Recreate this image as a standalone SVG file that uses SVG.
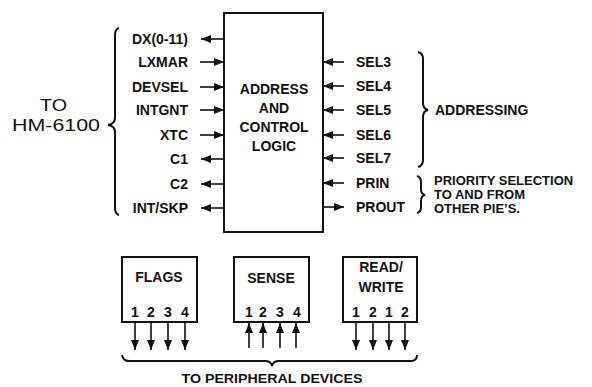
<svg xmlns="http://www.w3.org/2000/svg" width="592" height="387" viewBox="0 0 592 387">
<style>
.t{font-family:"Liberation Sans",Arial,sans-serif;font-weight:bold;font-size:14px;fill:#111}
.s{font-family:"Liberation Sans",Arial,sans-serif;font-weight:bold;font-size:13px;fill:#111}
.big{font-family:"Liberation Sans",Arial,sans-serif;font-size:16px;fill:#111}
.box{fill:#fff;stroke:#111;stroke-width:2}
.w{stroke:#111;stroke-width:1.6;fill:none}
.br{stroke:#111;stroke-width:2;fill:none}
</style>
<defs>
<marker id="ah" markerUnits="userSpaceOnUse" markerWidth="10" markerHeight="8" refX="10" refY="4" orient="auto">
<path d="M0,0 L10,4 L0,8 z" fill="#111"/>
</marker>
</defs>
<rect width="592" height="387" fill="#fff"/>

<g id="main">
<rect class="box" x="224" y="13" width="99" height="219"/>
<text class="t" x="274" y="94" text-anchor="middle">ADDRESS</text>
<text class="t" x="274" y="113" text-anchor="middle">AND</text>
<text class="t" x="274" y="132" text-anchor="middle">CONTROL</text>
<text class="t" x="274" y="151" text-anchor="middle">LOGIC</text>
</g>

<g id="flags">
<rect class="box" x="122" y="257" width="75" height="65"/>
<text class="t" x="159" y="282" text-anchor="middle">FLAGS</text>
<text class="t" x="135" y="317" text-anchor="middle">1</text>
<text class="t" x="151" y="317" text-anchor="middle">2</text>
<text class="t" x="168" y="317" text-anchor="middle">3</text>
<text class="t" x="185" y="317" text-anchor="middle">4</text>
</g>

<g id="sense">
<rect class="box" x="234" y="257" width="75" height="65"/>
<text class="t" x="271" y="283" text-anchor="middle">SENSE</text>
<text class="t" x="249" y="317" text-anchor="middle">1</text>
<text class="t" x="263" y="317" text-anchor="middle">2</text>
<text class="t" x="280" y="317" text-anchor="middle">3</text>
<text class="t" x="297" y="317" text-anchor="middle">4</text>
</g>

<g id="readwrite">
<rect class="box" x="343" y="257" width="74" height="65"/>
<text class="t" x="381" y="272" text-anchor="middle">READ/</text>
<text class="t" x="381" y="292" text-anchor="middle">WRITE</text>
<text class="t" x="356" y="317" text-anchor="middle">1</text>
<text class="t" x="373" y="317" text-anchor="middle">2</text>
<text class="t" x="389" y="317" text-anchor="middle">1</text>
<text class="t" x="405" y="317" text-anchor="middle">2</text>
</g>

<g id="connectors">
<line class="w" x1="224" y1="39" x2="201" y2="39" marker-end="url(#ah)"/>
<line class="w" x1="200" y1="62" x2="224" y2="62" marker-end="url(#ah)"/>
<line class="w" x1="200" y1="87" x2="224" y2="87" marker-end="url(#ah)"/>
<line class="w" x1="200" y1="110" x2="224" y2="110" marker-end="url(#ah)"/>
<line class="w" x1="200" y1="135" x2="224" y2="135" marker-end="url(#ah)"/>
<line class="w" x1="224" y1="159" x2="201" y2="159" marker-end="url(#ah)"/>
<line class="w" x1="224" y1="184" x2="201" y2="184" marker-end="url(#ah)"/>
<line class="w" x1="224" y1="208" x2="201" y2="208" marker-end="url(#ah)"/>

<line class="w" x1="344" y1="62" x2="323" y2="62" marker-end="url(#ah)"/>
<line class="w" x1="344" y1="86" x2="323" y2="86" marker-end="url(#ah)"/>
<line class="w" x1="344" y1="110" x2="323" y2="110" marker-end="url(#ah)"/>
<line class="w" x1="344" y1="135" x2="323" y2="135" marker-end="url(#ah)"/>
<line class="w" x1="344" y1="158" x2="323" y2="158" marker-end="url(#ah)"/>
<line class="w" x1="344" y1="183" x2="323" y2="183" marker-end="url(#ah)"/>
<line class="w" x1="323" y1="207" x2="344" y2="207" marker-end="url(#ah)"/>

<line class="w" x1="135" y1="322" x2="135" y2="350" marker-end="url(#ah)"/>
<line class="w" x1="151" y1="322" x2="151" y2="350" marker-end="url(#ah)"/>
<line class="w" x1="168" y1="322" x2="168" y2="350" marker-end="url(#ah)"/>
<line class="w" x1="185" y1="322" x2="185" y2="350" marker-end="url(#ah)"/>

<line class="w" x1="249" y1="348" x2="249" y2="323" marker-end="url(#ah)"/>
<line class="w" x1="263" y1="348" x2="263" y2="323" marker-end="url(#ah)"/>
<line class="w" x1="280" y1="348" x2="280" y2="323" marker-end="url(#ah)"/>
<line class="w" x1="296" y1="348" x2="296" y2="323" marker-end="url(#ah)"/>

<line class="w" x1="356" y1="322" x2="356" y2="350" marker-end="url(#ah)"/>
<line class="w" x1="373" y1="322" x2="373" y2="350" marker-end="url(#ah)"/>
<line class="w" x1="389" y1="322" x2="389" y2="350" marker-end="url(#ah)"/>
<line class="w" x1="405" y1="322" x2="405" y2="350" marker-end="url(#ah)"/>
</g>

<g id="labels">
<text class="t" x="188" y="44" text-anchor="end">DX(0-11)</text>
<text class="t" x="188" y="67" text-anchor="end">LXMAR</text>
<text class="t" x="188" y="92" text-anchor="end">DEVSEL</text>
<text class="t" x="188" y="115" text-anchor="end">INTGNT</text>
<text class="t" x="188" y="140" text-anchor="end">XTC</text>
<text class="t" x="188" y="164" text-anchor="end">C1</text>
<text class="t" x="188" y="189" text-anchor="end">C2</text>
<text class="t" x="188" y="213" text-anchor="end">INT/SKP</text>

<text class="t" x="356" y="67">SEL3</text>
<text class="t" x="356" y="91">SEL4</text>
<text class="t" x="356" y="115">SEL5</text>
<text class="t" x="356" y="140">SEL6</text>
<text class="t" x="356" y="163">SEL7</text>
<text class="t" x="356" y="188">PRIN</text>
<text class="t" x="356" y="212">PROUT</text>

<text class="t" x="435" y="115">ADDRESSING</text>
<text class="s" x="434" y="185">PRIORITY SELECTION</text>
<text class="s" x="434" y="199">TO AND FROM</text>
<text class="s" x="434" y="213">OTHER PIE’S.</text>

<text class="big" x="40" y="111" textLength="27" lengthAdjust="spacingAndGlyphs">TO</text>
<text class="big" x="12" y="131" textLength="88" lengthAdjust="spacingAndGlyphs">HM-6100</text>

<text class="s" x="272" y="383" text-anchor="middle" textLength="181" lengthAdjust="spacingAndGlyphs">TO PERIPHERAL DEVICES</text>
</g>

<g id="braces">
<path class="br" d="M119,28 Q115,29 115,35 L115,118 Q115,124 108,125 Q115,126 115,132 L115,208 Q115,214 119,215"/>
<path class="br" d="M418,52 Q423,53 423,59 L423,103 Q423,109 428,110 Q423,111 423,117 L423,160 Q423,166 418,167"/>
<path class="br" d="M417,176 Q421,177 421,182 L421,189 Q421,194 425,195 Q421,196 421,201 L421,207 Q421,212 417,213"/>
<path class="br" d="M122,355 Q123,361 129,361 L265,361 Q271,361 272,366 Q273,361 279,361 L411,361 Q417,361 417,355"/>
</g>
</svg>
